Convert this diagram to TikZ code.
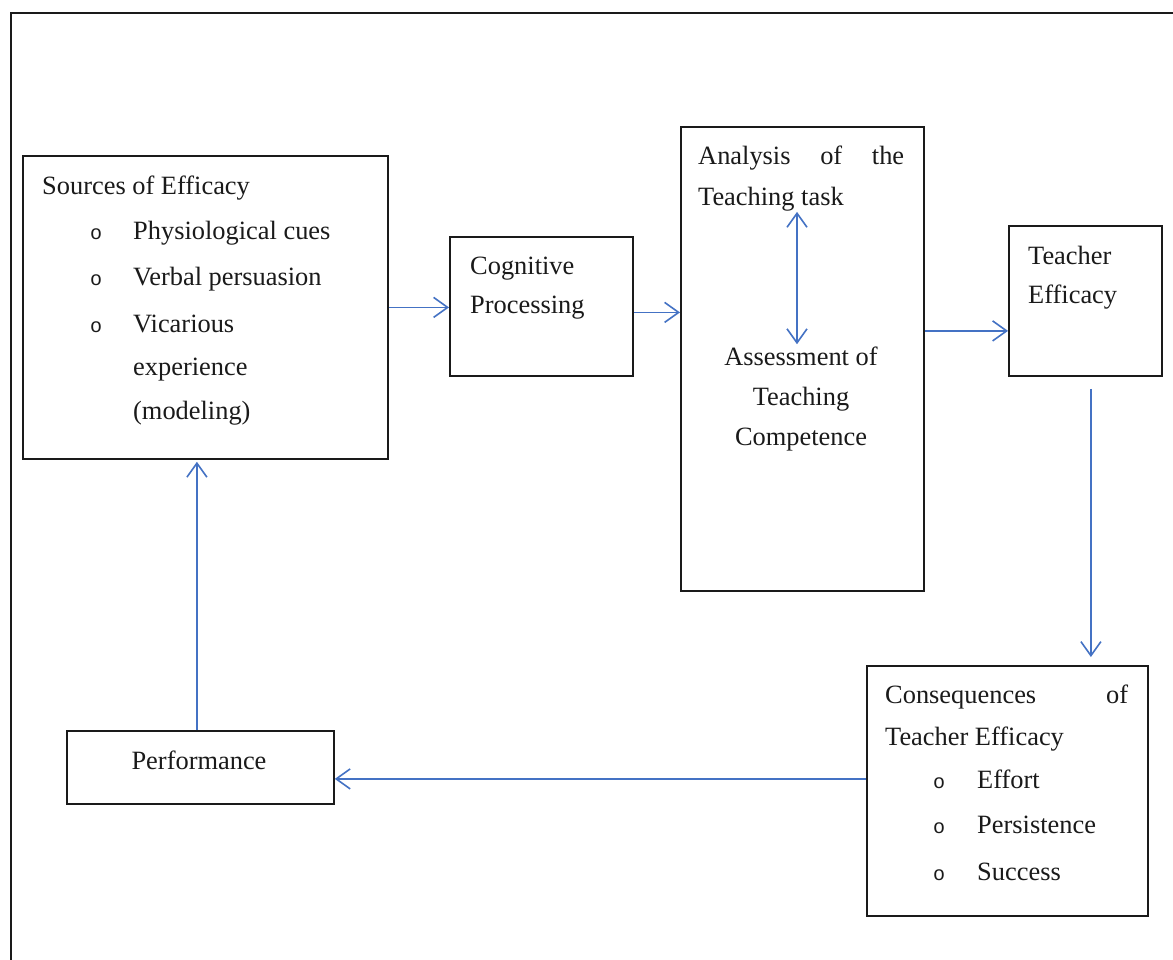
\documentclass[tikz,border=0pt]{standalone}
\usepackage{fontspec}
\setmainfont{Liberation Serif}
\newfontfamily\bulletfont{Liberation Mono}
\usetikzlibrary{arrows.meta,calc}
\definecolor{arrblue}{HTML}{4472C4}
\definecolor{ink}{HTML}{1A1A1A}
\begin{document}
\begin{tikzpicture}[x=1pt,y=-1pt,
  box/.style={draw=ink,line width=1.8pt,anchor=north west,inner sep=0pt},
  txt/.style={anchor=base west,inner sep=0pt,text=ink,font=\fontsize{26.4}{30}\selectfont},
  ctxt/.style={txt,anchor=base},
  bul/.style={anchor=base west,inner sep=0pt,text=ink,font=\bulletfont\fontsize{20}{24}\selectfont},
  arr/.style={draw=arrblue,line width=1.6pt,-{Straight Barb[length=14pt,width=20pt]}},
  darr/.style={draw=arrblue,line width=1.6pt,{Straight Barb[length=14pt,width=20pt]}-{Straight Barb[length=14pt,width=20pt]}}
]
\useasboundingbox (0,0) rectangle (1173,960);
\fill[white] (0,0) rectangle (1173,960);
\draw[ink,line width=2pt] (11,960) -- (11,13) -- (1173,13);

% boxes
\node[box,minimum width=365pt,minimum height=303pt] (src) at (22,155) {};
\node[box,minimum width=183pt,minimum height=139pt] (cog) at (449,236) {};
\node[box,minimum width=243pt,minimum height=464pt] (ana) at (680,126) {};
\node[box,minimum width=153pt,minimum height=150pt] (tea) at (1008,225) {};
\node[box,minimum width=281pt,minimum height=250pt] (con) at (866,665) {};
\node[box,minimum width=267pt,minimum height=73pt] (perf) at (66,730) {};

% Sources text
\node[txt] (s0) at (42,195) {Sources of Efficacy};
\node[bul] (sb1) at (90,240) {o};
\node[txt] (s1) at (133,240) {Physiological cues};
\node[bul] (sb2) at (90,285) {o};
\node[txt] (s2) at (133,285) {Verbal persuasion};
\node[bul] (sb3) at (90,332) {o};
\node[txt] (s3) at (133,332) {Vicarious};
\node[txt] (s4) at (133,375) {experience};
\node[txt] (s5) at (133,419) {(modeling)};

% Cognitive
\node[txt] (c1) at (470,275) {Cognitive};
\node[txt] (c2) at (470,313) {Processing};

% Analysis
\node[txt] (a1) at (698,165) {\makebox[206pt][l]{Analysis\hfill of\hfill the}};
\node[txt] (a2) at (698,206) {Teaching task};
\node[ctxt] (m1) at (801,365) {Assessment of};
\node[ctxt] (m2) at (801,405) {Teaching};
\node[ctxt] (m3) at (801,445) {Competence};

% Teacher efficacy
\node[txt] (t1) at (1028,265) {Teacher};
\node[txt] (t2) at (1028,303) {Efficacy};

% Consequences
\node[txt] (q0) at (885,703) {\makebox[243pt][l]{Consequences\hfill of}};
\node[txt] (q1) at (885,745) {Teacher Efficacy};
\node[bul] (qb1) at (933,788) {o};
\node[txt] (q2) at (977,788) {Effort};
\node[bul] (qb2) at (933,833) {o};
\node[txt] (q3) at (977,833) {Persistence};
\node[bul] (qb3) at (933,880) {o};
\node[txt] (q4) at (977,880) {Success};

% Performance
\node[ctxt] (p1) at (199,769) {Performance};

% connectors
\draw[arr] (src.east) -- (cog.west |- src.east);
\coordinate (k1) at ($(cog.east)+(0,6)$);
\draw[arr] (k1) -- (ana.west |- k1);
\coordinate (dx) at (797,0);
\draw[darr] (a2.south -| dx) -- ($(m1.north -| dx)+(0,-2)$);
\coordinate (k2) at ($(tea.west)+(0,30)$);
\draw[arr] (ana.east |- k2) -- (k2);
\coordinate (k3) at ($(tea.south)+(5.5,12)$);
\draw[arr] (k3) -- ($(k3 |- con.north)+(0,-8)$);
\coordinate (k4) at ($(con.west)+(0,-12)$);
\draw[arr] (k4) -- (perf.east |- k4);
\draw[arr] ($(perf.north)+(-3.5,0)$) -- ($(perf.north |- src.south)+(-3.5,2)$);
\end{tikzpicture}
\end{document}
